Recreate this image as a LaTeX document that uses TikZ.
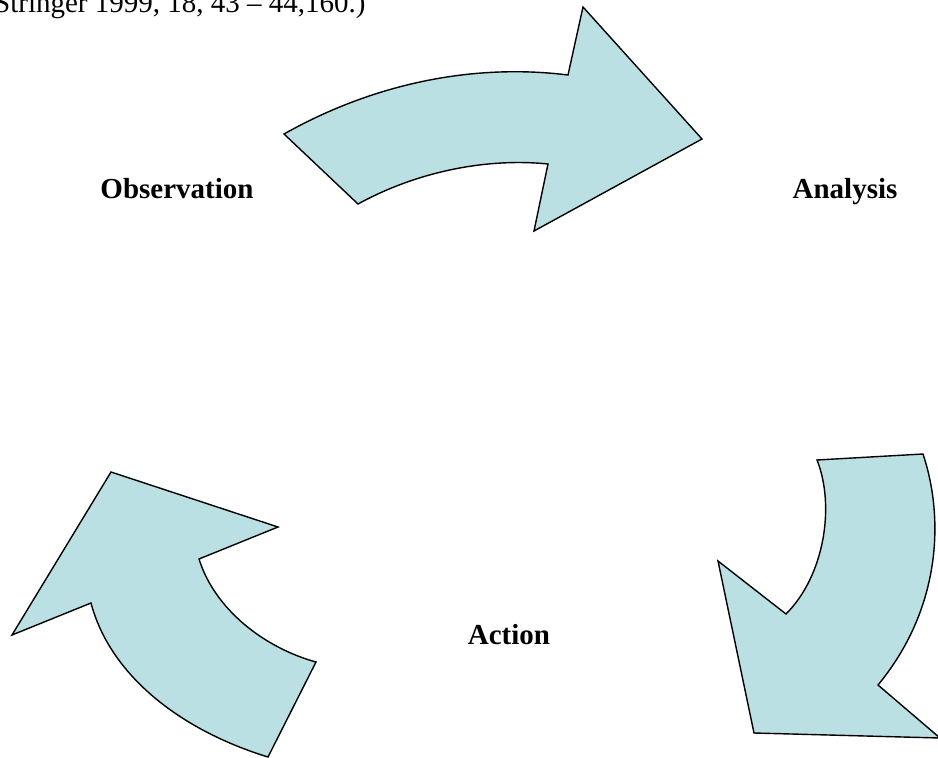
\documentclass[tikz,border=0pt]{standalone}
\usepackage{fontspec}
\setmainfont{Liberation Serif}
\definecolor{arrowblue}{HTML}{BBE0E3}
\begin{document}
\begin{tikzpicture}[x=1pt,y=-1pt]
\tikzstyle{every node}=[inner sep=0pt,font=\fontsize{29}{34}\selectfont\bfseries]
\tikzstyle{blockarrow}=[draw=black,line width=1.4pt,fill=arrowblue,line join=miter]
\useasboundingbox (0,0) rectangle (938,758);
\clip (0,0) rectangle (938,758);
\node[anchor=base west,font=\fontsize{29}{34}\selectfont] (source) at (-6,12) {Stringer 1999, 18, 43 -- 44,160.)};
\node[anchor=base] (obs) at (177,198) {Observation};
\node[anchor=base] (ana) at (845,198) {Analysis};
\node[anchor=base] (act) at (509,644) {Action};
% observation -> analysis
\draw[blockarrow] (284,134) .. controls (380,80) and (480,64) .. (568,75) -- (583,7) -- (702,139)
 -- (534,231) -- (548,164) .. controls (490,158) and (420,170) .. (358,204) -- cycle;
% analysis -> action
\draw[blockarrow] (817,460) -- (923,454) .. controls (945,520) and (940,610) .. (878,685) -- (940,738)
 -- (754,733) -- (718,561) -- (786,614) .. controls (825,575) and (835,505) .. (817,460) -- cycle;
% action -> observation
\draw[blockarrow] (111,472) -- (278,527) -- (199,559) .. controls (215,610) and (265,648) .. (316,662)
 -- (268,757) .. controls (180,730) and (110,675) .. (91,603) -- (12,635) -- cycle;
\end{tikzpicture}
\end{document}
